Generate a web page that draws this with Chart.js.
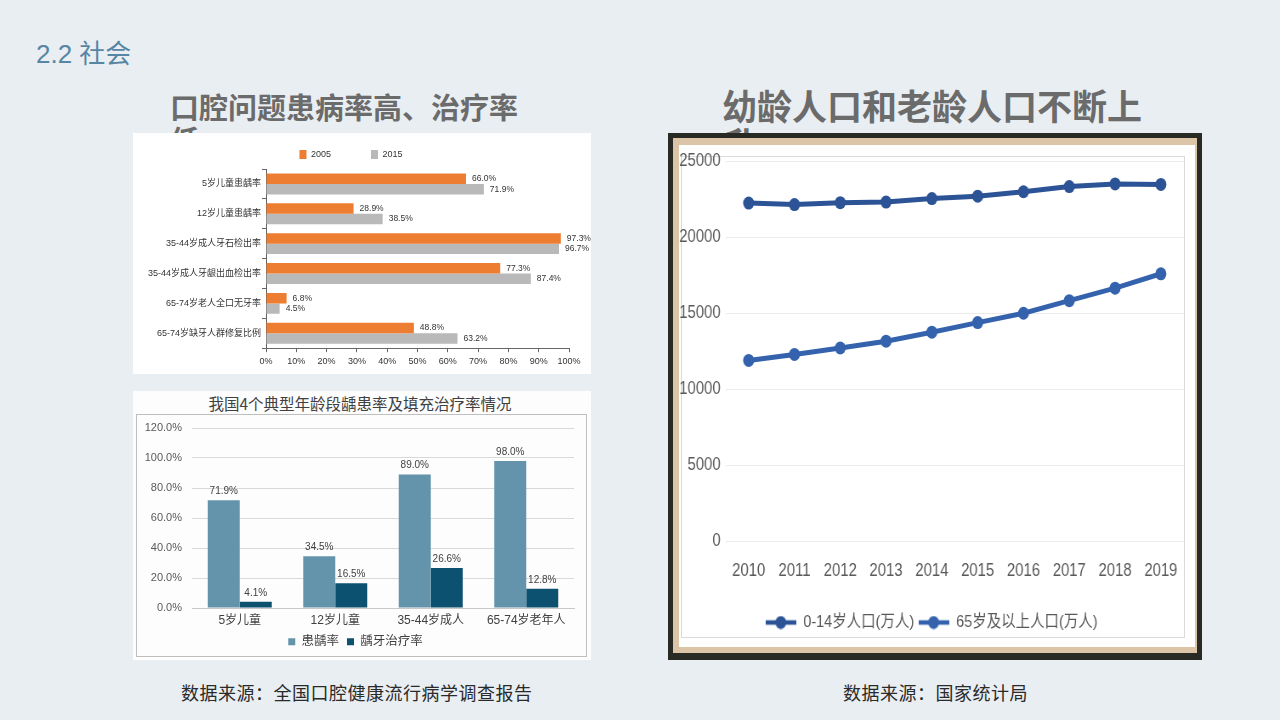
<!DOCTYPE html>
<html>
<head>
<meta charset="utf-8">
<script src="https://cdn.jsdelivr.net/npm/chart.js@4.4.1/dist/chart.umd.min.js"></script>
<style>
    body { margin: 0; width: 1280px; height: 720px; background: #e9eef2; position: relative; overflow: hidden;
           font-family: 'Noto Sans CJK SC', sans-serif; }
    .abs { position: absolute; }
    #sec { left: 36px; top: 33px; font-size: 26px; color: #5785a4; font-family: 'Liberation Sans', 'Noto Sans CJK SC', sans-serif; }
    .ttl { font-weight: bold; color: #6b6b6b; }
    #t1 { left: 170px; top: 90px; width: 360px; font-size: 29px; line-height: 33px; }
    #t2 { left: 722px; top: 86px; width: 430px; font-size: 35px; line-height: 38px; }
    #box1 { left: 133px; top: 133px; width: 458px; height: 241px; background: #fff; }
    #box2 { left: 133px; top: 391px; width: 458px; height: 269px; background: #fdfdfd; }
    #box2 .hd { position: absolute; left: 0; top: 1px; width: 454px; text-align: center; font-size: 15.5px; color: #404040; }
    #box2 .frm { position: absolute; left: 3px; top: 23px; width: 451px; height: 243px; border: 1px solid #bfbfbf; box-sizing: border-box; }
    #box3 { left: 668px; top: 133px; width: 534px; height: 527px; background: #2a2a24; }
    #box3 .tan { position: absolute; left: 5px; top: 5px; right: 5px; bottom: 7px; background: #dcc4a6; }
    #box3 .wht { position: absolute; left: 11px; top: 12px; width: 516px; height: 502px; background: #fff; overflow: hidden; }
    #box3 .inner { position: absolute; left: 2px; top: 11px; width: 504px; height: 482px; border: 1px solid #dadada; box-sizing: border-box; }
    #box3 .squeeze { position: absolute; left: 0; top: 0; width: 607px; height: 502px; transform: scaleX(0.85); transform-origin: 0 0; }
    .src { top: 679px; font-size: 18px; color: #2a2a2a; letter-spacing: 0.5px; }
</style>
</head>
<body>
<div id="sec" class="abs">2.2 社会</div>
<div id="t1" class="abs ttl">口腔问题患病率高、治疗率低</div>
<div id="t2" class="abs ttl">幼龄人口和老龄人口不断上升</div>

<div id="box1" class="abs"><canvas id="c1"></canvas></div>

<div id="box2" class="abs">
    <div class="hd">我国4个典型年龄段龋患率及填充治疗率情况</div>
    <div class="frm"><div style="position:absolute;left:0;top:0;width:449px;height:243px"><canvas id="c2"></canvas></div></div>
</div>

<div id="box3" class="abs">
    <div class="tan"></div>
    <div class="wht">
        <div class="inner"></div>
        <div class="squeeze"><canvas id="c3"></canvas></div>
    </div>
</div>

<div class="abs src" style="left:181px">数据来源：全国口腔健康流行病学调查报告</div>
<div class="abs src" style="left:843px">数据来源：国家统计局</div>

<script>
    // chart 1: oral health, 2005 vs 2015
    const oralCats = ['5岁儿童患龋率', '12岁儿童患龋率', '35-44岁成人牙石检出率', '35-44岁成人牙龈出血检出率', '65-74岁老人全口无牙率', '65-74岁缺牙人群修复比例'];
    const oral2005 = [66.0, 28.9, 97.3, 77.3, 6.8, 48.8];
    const oral2015 = [71.9, 38.5, 96.7, 87.4, 4.5, 63.2];

    // chart 2: caries and treatment rate by age group
    const ageGroups = ['5岁儿童', '12岁儿童', '35-44岁成人', '65-74岁老年人'];
    const cariesRate = [71.9, 34.5, 89.0, 98.0];
    const treatRate = [4.1, 16.5, 26.6, 12.8];

    // chart 3: population (10k people)
    const years = ['2010', '2011', '2012', '2013', '2014', '2015', '2016', '2017', '2018', '2019'];
    const pop0to14 = [22259, 22164, 22287, 22329, 22558, 22715, 23008, 23348, 23523, 23492];
    const pop65plus = [11894, 12288, 12714, 13161, 13755, 14386, 15003, 15831, 16658, 17603];

    const NARROW = "'Liberation Sans Narrow', 'Arial Narrow', 'Liberation Sans', 'Noto Sans CJK SC', sans-serif";
    Chart.defaults.font.family = "'Liberation Sans', 'Noto Sans CJK SC', sans-serif";
    Chart.defaults.animation = false;
    const baseLabels = Chart.defaults.plugins.legend.labels.generateLabels;

    const valueLabels = {
        id: 'valueLabels',
        afterDatasetsDraw(chart, args, opts) {
            const ctx = chart.ctx;
            ctx.save();
            ctx.font = opts.font;
            ctx.fillStyle = opts.color;
            chart.data.datasets.forEach((ds, i) => {
                chart.getDatasetMeta(i).data.forEach((bar, j) => {
                    const txt = ds.data[j].toFixed(1) + '%';
                    if (chart.options.indexAxis === 'y') {
                        ctx.textAlign = 'left';
                        ctx.textBaseline = 'middle';
                        ctx.fillText(txt, bar.x + opts.gap, bar.y);
                    } else {
                        ctx.textAlign = 'center';
                        ctx.textBaseline = 'bottom';
                        ctx.fillText(txt, bar.x, bar.y - opts.gap);
                    }
                });
            });
            ctx.restore();
        }
    };

    new Chart('c1', {
        type: 'bar',
        data: {
            labels: oralCats,
            datasets: [
                { label: '2005', data: oral2005, backgroundColor: '#ed7d31' },
                { label: '2015', data: oral2015, backgroundColor: '#b9b9b9' }
            ]
        },
        options: {
            indexAxis: 'y',
            responsive: true,
            maintainAspectRatio: false,
            layout: { padding: { top: 7, right: 22, bottom: 3, left: 0 } },
            datasets: { bar: { categoryPercentage: 0.7, barPercentage: 1 } },
            scales: {
                x: {
                    min: 0, max: 100,
                    ticks: { stepSize: 10, callback: v => v + '%', font: { size: 9 }, color: '#333', padding: 4, maxRotation: 0 },
                    grid: { drawOnChartArea: false, tickLength: 4, color: '#666' },
                    border: { color: '#666' }
                },
                y: {
                    ticks: { font: { size: 9 }, color: '#333', padding: 1 },
                    grid: { drawOnChartArea: false, tickLength: 4, color: '#666' },
                    border: { color: '#666' },
                    afterFit: s => { s.width = 133; }
                }
            },
            plugins: {
                legend: {
                    position: 'top',
                    labels: {
                        boxWidth: 7, boxHeight: 9, font: { size: 9 }, color: '#333', padding: 10,
                        generateLabels: ch => baseLabels(ch).map((it, i) => {
                            if (i === 0) it.text += '            ';
                            return it;
                        })
                    }
                },
                tooltip: { enabled: false },
                valueLabels: { font: '8.5px "Liberation Sans"', color: '#333', gap: 6 }
            }
        },
        plugins: [valueLabels]
    });

    new Chart('c2', {
        type: 'bar',
        data: {
            labels: ageGroups,
            datasets: [
                { label: '患龋率', data: cariesRate, backgroundColor: '#6394ac' },
                { label: '龋牙治疗率', data: treatRate, backgroundColor: '#0c5170' }
            ]
        },
        options: {
            responsive: true,
            maintainAspectRatio: false,
            layout: { padding: { top: 13, right: 12, bottom: 0, left: 0 } },
            datasets: { bar: { categoryPercentage: 0.67, barPercentage: 1 } },
            scales: {
                x: {
                    grid: { display: false, drawTicks: false },
                    border: { display: true, color: '#c8c8c8' },
                    ticks: { font: { size: 12 }, color: '#404040', padding: 5 },
                    afterFit: s => { s.height = 19.5; }
                },
                y: {
                    min: 0, max: 120,
                    ticks: { stepSize: 20, callback: v => v.toFixed(1) + '%', font: { size: 11 }, color: '#595959', padding: 10 },
                    grid: { color: '#d9d9d9', drawTicks: false },
                    border: { display: false },
                    afterFit: s => { s.width = 55; s.paddingTop = 7; s.paddingBottom = 7; }
                }
            },
            plugins: {
                legend: {
                    position: 'bottom',
                    labels: { boxWidth: 7, boxHeight: 7, font: { size: 12.5 }, color: '#404040', padding: 8 }
                },
                tooltip: { enabled: false },
                valueLabels: { font: '10px "Liberation Sans"', color: '#404040', gap: 4 }
            }
        },
        plugins: [valueLabels]
    });

    function legendMark(color) {
        const c = document.createElement('canvas');
        c.width = 36; c.height = 14;
        const g = c.getContext('2d');
        g.strokeStyle = color; g.lineWidth = 4.5;
        g.beginPath(); g.moveTo(0, 7); g.lineTo(36, 7); g.stroke();
        g.fillStyle = color;
        g.beginPath(); g.arc(18, 7, 6.5, 0, Math.PI * 2); g.fill();
        return c;
    }

    const lineColors = ['#2c5395', '#3562ad'];

    new Chart('c3', {
        type: 'line',
        data: {
            labels: years,
            datasets: [
                { label: '0-14岁人口(万人)', data: pop0to14, borderColor: lineColors[0], backgroundColor: lineColors[0],
                  borderWidth: 5, pointRadius: 6.5, pointBorderWidth: 0, pointBackgroundColor: lineColors[0] },
                { label: '65岁及以上人口(万人)', data: pop65plus, borderColor: lineColors[1], backgroundColor: lineColors[1],
                  borderWidth: 5, pointRadius: 6.5, pointBorderWidth: 0, pointBackgroundColor: lineColors[1] }
            ]
        },
        options: {
            responsive: true,
            maintainAspectRatio: false,
            layout: { padding: { top: 14, right: 13, bottom: 6, left: 0 } },
            scales: {
                x: {
                    offset: true,
                    grid: { display: false, drawTicks: false },
                    border: { display: false },
                    ticks: { font: { size: 17.5, family: NARROW }, color: '#595959', padding: 20, maxRotation: 0 },
                    afterFit: s => { s.height += 7; }
                },
                y: {
                    min: 0, max: 25000,
                    ticks: { stepSize: 5000, callback: v => String(v), font: { size: 17.5, family: NARROW }, color: '#595959', padding: 6 },
                    grid: { color: '#ececec', drawTicks: false },
                    border: { display: false },
                    afterFit: s => { s.width = 55; }
                }
            },
            plugins: {
                legend: {
                    position: 'bottom',
                    labels: {
                        usePointStyle: true, pointStyleWidth: 36, padding: 5,
                        font: { size: 17, family: NARROW }, color: '#595959',
                        generateLabels: ch => baseLabels(ch).map((it, i) => {
                            it.pointStyle = legendMark(lineColors[i]);
                            return it;
                        })
                    }
                },
                tooltip: { enabled: false }
            }
        }
    });
</script>
</body>
</html>
